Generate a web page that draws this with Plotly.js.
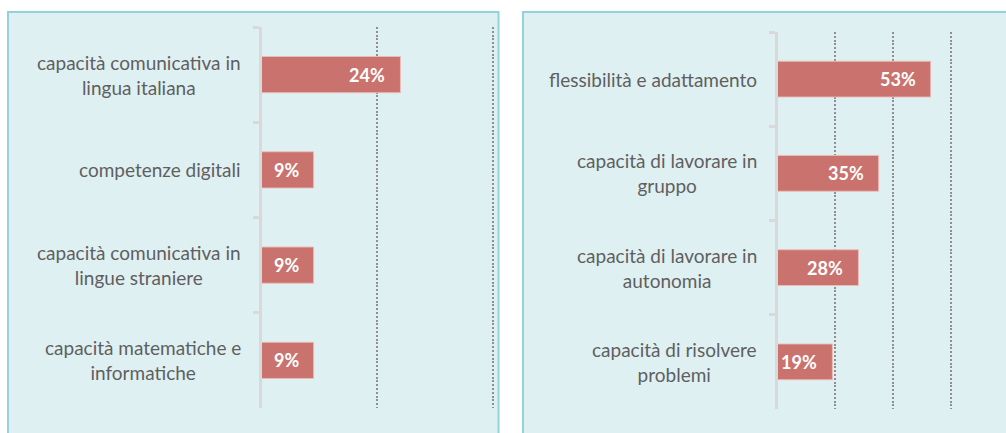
<!DOCTYPE html>
<html>
<head>
<meta charset="utf-8">
<script src="https://cdn.plot.ly/plotly-3.0.1.min.js"></script>
<style>html,body{margin:0;padding:0;background:#fff;}#chart{width:1006px;height:433px;}</style>
</head>
<body>
<div id="chart"></div>
<script>
// ---- data ----
const leftCategories = [
  "capacità comunicativa in<br>lingua italiana",
  "competenze digitali",
  "capacità comunicativa in<br>lingue straniere",
  "capacità matematiche e<br>informatiche"
];
const leftValues = [24, 9, 9, 9];

const rightCategories = [
  "flessibilità e adattamento",
  "capacità di lavorare in<br>gruppo",
  "capacità di lavorare in<br>autonomia",
  "capacità di risolvere<br>problemi"
];
const rightValues = [53, 35, 28, 19];

const leftGrid = [20, 40];
const rightGrid = [20, 40, 60];

// ---- layout helpers ----
const W = 1006, H = 433;
const px = x => x / W;
const py = y => 1 - y / H;

const barColor = "rgb(202,115,110)";
const labelFont = {family: "Lato, 'Open Sans', sans-serif", size: 19, color: "#5f5f5f"};
const valueFont = {family: "Lato, 'Open Sans', sans-serif", size: 18, color: "#ffffff", weight: "bold"};

const traces = [
  {type: "bar", orientation: "h", x: leftValues, y: leftCategories, xaxis: "x", yaxis: "y",
   marker: {color: barColor, line: {color: "rgba(235,190,185,0.9)", width: 1}}, hoverinfo: "none"},
  {type: "bar", orientation: "h", x: rightValues, y: rightCategories, xaxis: "x2", yaxis: "y2",
   marker: {color: barColor, line: {color: "rgba(235,190,185,0.9)", width: 1}}, hoverinfo: "none"}
];

const annotations = [];
function addLabels(cats, vals, xa, ya) {
  cats.forEach((c, i) => {
    annotations.push({text: c, x: 0, xref: xa + " domain", y: c, yref: ya,
      xanchor: "right", yanchor: "middle", xshift: -19, align: "center", showarrow: false,
      font: labelFont});
    annotations.push({text: "<b>" + vals[i] + "%</b>", x: vals[i], xref: xa, y: c, yref: ya,
      xanchor: "right", yanchor: "middle", xshift: -13, showarrow: false, font: valueFont});
  });
}
addLabels(leftCategories, leftValues, "x", "y");
addLabels(rightCategories, rightValues, "x2", "y2");

const yCommon = {showline: true, linecolor: "#d9d9d9", linewidth: 3, ticks: "outside", tickson: "boundaries",
  ticklen: 6, tickwidth: 3, tickcolor: "#d9d9d9", showticklabels: false, showgrid: false,
  autorange: "reversed", type: "category", zeroline: false};
const xCommon = {showticklabels: false, zeroline: false, showline: false, showgrid: true,
  gridcolor: "#8f8f8f", gridwidth: 1.6, griddash: "2px,1.8px", tickmode: "array", ticks: ""};

const layout = {
  width: W, height: H,
  margin: {l: 0, r: 0, t: 0, b: 0},
  paper_bgcolor: "#ffffff",
  plot_bgcolor: "rgba(0,0,0,0)",
  showlegend: false,
  bargap: 0.62,
  xaxis: Object.assign({}, xCommon, {domain: [px(261.5), px(261.5 + 40.3 * 5.79)], range: [0, 40.3], tickvals: leftGrid, anchor: "y"}),
  yaxis: Object.assign({}, yCommon, {domain: [py(408), py(27)], anchor: "x"}),
  xaxis2: Object.assign({}, xCommon, {domain: [px(777.5), px(777.5 + 60.5 * 2.89)], range: [0, 60.5], tickvals: rightGrid, anchor: "y2"}),
  yaxis2: Object.assign({}, yCommon, {domain: [py(409), py(32)], anchor: "x2"}),
  shapes: [
    {type: "rect", xref: "paper", yref: "paper", x0: px(8), x1: px(498.5), y0: py(450), y1: py(12),
     fillcolor: "#dff0f2", line: {color: "#93d1dc", width: 2}, layer: "below"},
    {type: "rect", xref: "paper", yref: "paper", x0: px(523), x1: px(1020), y0: py(450), y1: py(12),
     fillcolor: "#dff0f2", line: {color: "#93d1dc", width: 2}, layer: "below"}
  ],
  annotations: annotations
};

Plotly.newPlot("chart", traces, layout, {displayModeBar: false, staticPlot: true});
</script>
</body>
</html>
